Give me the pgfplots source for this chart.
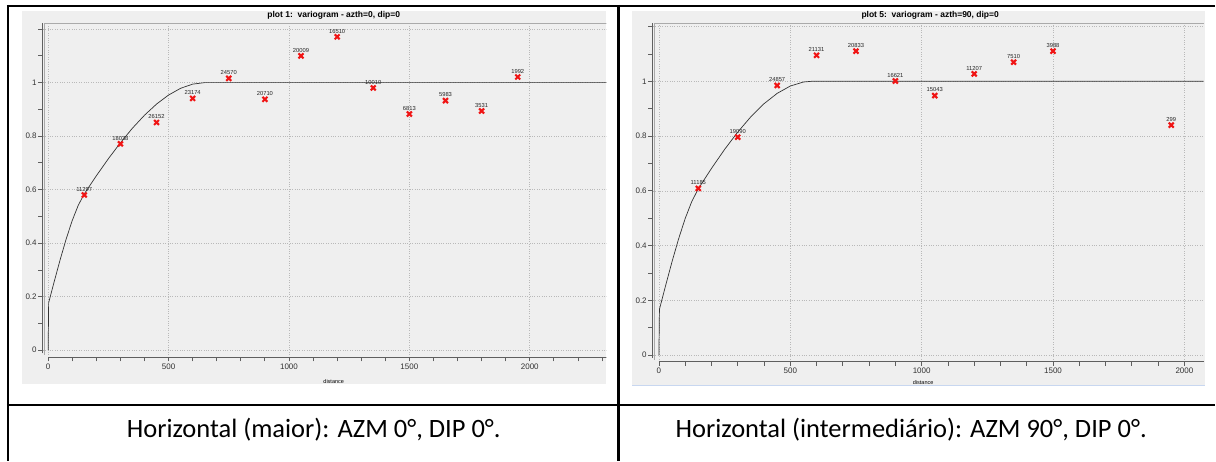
\documentclass[border=0pt]{standalone}
\usepackage{fontspec}
\setmainfont{Liberation Sans}
\newfontfamily\capfont{Carlito}
\usepackage{pgfplots}
\usepackage{pgfplotstable}
\pgfplotsset{compat=1.18}

\definecolor{panelbg}{RGB}{239,239,239}
\definecolor{axisgray}{RGB}{95,95,95}
\definecolor{framegray}{RGB}{170,170,170}
\definecolor{gridgray}{RGB}{185,185,185}
\definecolor{varred}{RGB}{240,20,20}
\definecolor{edgeblue}{RGB}{200,215,240}

% experimental variogram, azimuth 0
\pgfplotstableread{
x     y       lab
150   0.580   11297
300   0.771   18038
450   0.851   26152
600   0.941   23174
750   1.016   24570
900   0.9375  20710
1050  1.100   20009
1200  1.171   16510
1350  0.980   10010
1500  0.8825  6813
1650  0.9325  5983
1800  0.894   3531
1950  1.021   1992
}\expA

% fitted model, azimuth 0
\pgfplotstableread{
x     y
0     0
2     0.177
10    0.2045
25    0.2558
50    0.3388
75    0.4161
100   0.4846
125   0.5416
150   0.5842
200   0.6516
250   0.7155
300   0.7751
350   0.8297
400   0.8781
450   0.9197
500   0.9535
550   0.9788
600   0.9943
650   1.0
2320  1.0
}\modA

% experimental variogram, azimuth 90
\pgfplotstableread{
x     y       lab
150   0.609   11185
300   0.796   19090
450   0.985   24857
600   1.095   21131
750   1.110   20833
900   1.001   16621
1050  0.948   15043
1200  1.027   11207
1350  1.070   7510
1500  1.110   3988
1950  0.840   299
}\expB

% fitted model, azimuth 90
\pgfplotstableread{
x     y
0     0
2     0.1674
10    0.1971
25    0.2523
50    0.3417
75    0.4249
100   0.4990
125   0.5610
150   0.6077
200   0.6819
250   0.7513
300   0.8146
350   0.8706
400   0.9182
450   0.9560
500   0.9828
550   0.9975
580   1.0
2073  1.0
}\modB

\pgfplotsset{
  vario/.style={
    scale only axis,
    anchor=south west,
    clip=false,
    axis x line*=bottom,
    axis y line*=left,
    axis line style={draw=none},
    tick align=outside,
    major tick length=4.5pt,
    minor tick length=4.5pt,
    every tick/.style={axisgray, line width=0.8pt},
    ytick={0,0.2,0.4,0.6,0.8,1,1.2},
    yticklabels={0,0.2,0.4,0.6,0.8,1,},
    minor ytick={0.1,0.3,0.5,0.7,0.9,1.1},
    xtick={0,500,1000,1500,2000},
    xticklabels={0,500,1000,1500,2000},
    ymajorgrids, xmajorgrids,
    major grid style={dotted, gridgray, line width=0.6pt},
    yticklabel style={font=\fontsize{8}{9}\selectfont, text=black!80, inner sep=1.5pt},
    xticklabel style={font=\fontsize{8}{9}\selectfont, text=black!80, inner sep=2pt},
  },
  expmarks/.style={
    only marks, mark=x, mark size=3.5pt, varred, line width=2.1pt,
    nodes near coords, point meta=explicit symbolic,
    every node near coord/.style={font=\fontsize{5.8}{6.5}\selectfont,
      text=black!85, anchor=south, inner sep=0.5pt, yshift=2.2pt},
  },
  modelline/.style={no marks, black!80, line width=0.7pt},
}

\begin{document}
\begin{tikzpicture}
\path (0pt,0pt) rectangle (1216pt,461pt);

% screenshot backgrounds
\fill[panelbg] (22pt,77pt) rectangle (607pt,450pt);
\fill[panelbg] (633pt,75.3pt) rectangle (1206pt,450pt);
\draw[edgeblue, line width=0.8pt] (633pt,75.3pt) -- (1206pt,75.3pt);

% titles
\node[font=\bfseries\fontsize{8.5}{10}\selectfont] at (334pt,446pt) {plot 1:\ \ variogram - azth=0, dip=0};
\node[font=\bfseries\fontsize{8.5}{10}\selectfont] at (931pt,446pt) {plot 5:\ \ variogram - azth=90, dip=0};

% azimuth 0
\begin{scope}
\clip (22pt,77pt) rectangle (607pt,450pt);
\begin{axis}[vario, at={(42.9pt,103.7pt)}, width=564.5pt, height=334pt,
  xmin=-22, xmax=2320, ymin=-0.0254, ymax=1.2218,
  minor xtick={100,200,300,400,600,700,800,900,1100,1200,1300,1400,1600,1700,1800,1900,2100,2200,2300}]
  \draw[framegray, line width=0.8pt] (axis cs:-15.5,-0.018) -- (axis cs:-15.5,1.2218) -- (axis cs:2320,1.2218);
  \draw[axisgray, line width=0.9pt] (axis cs:-22,-0.012) -- (axis cs:-22,1.2218);
  \draw[axisgray, line width=0.9pt] (axis cs:0,-0.0254) -- (axis cs:2320,-0.0254);
  \addplot[modelline] table[x=x,y=y] {\modA};
  \addplot[expmarks] table[x=x,y=y,meta=lab] {\expA};
\end{axis}
\end{scope}
\node[font=\fontsize{5.5}{6}\selectfont] at (334pt,79.5pt) {distance};

% azimuth 90
\begin{scope}
\clip (633pt,75.3pt) rectangle (1206pt,450pt);
\begin{axis}[vario, at={(653.45pt,99.3pt)}, width=551.2pt, height=338.4pt,
  xmin=-23, xmax=2073, ymin=-0.0226, ymax=1.212,
  minor xtick={100,200,300,400,600,700,800,900,1100,1200,1300,1400,1600,1700,1800,1900}]
  \draw[framegray, line width=0.8pt] (axis cs:-16,-0.016) -- (axis cs:-16,1.212) -- (axis cs:2073,1.212);
  \draw[axisgray, line width=0.9pt] (axis cs:-23,-0.010) -- (axis cs:-23,1.212);
  \draw[axisgray, line width=0.9pt] (axis cs:0,-0.0226) -- (axis cs:2073,-0.0226);
  \addplot[modelline] table[x=x,y=y] {\modB};
  \addplot[expmarks] table[x=x,y=y,meta=lab] {\expB};
\end{axis}
\end{scope}
\node[font=\fontsize{5.5}{6}\selectfont] at (924pt,78.5pt) {distance};

% table rules
\draw[line width=2.2pt] (7pt,455pt) -- (1216pt,455pt);
\draw[line width=2.2pt] (7pt,55.5pt) -- (1216pt,55.5pt);
\draw[line width=2.2pt] (8pt,456pt) -- (8pt,0pt);
\draw[line width=2.2pt] (619pt,456pt) -- (619pt,0pt);

% captions
\node[font=\capfont\fontsize{26.5}{31}\selectfont] at (314pt,31pt) {Horizontal (maior): AZM 0°, DIP 0°.};
\node[font=\capfont\fontsize{26.5}{31}\selectfont] at (912pt,31pt) {Horizontal (intermediário): AZM 90°, DIP 0°.};
\end{tikzpicture}
\end{document}
